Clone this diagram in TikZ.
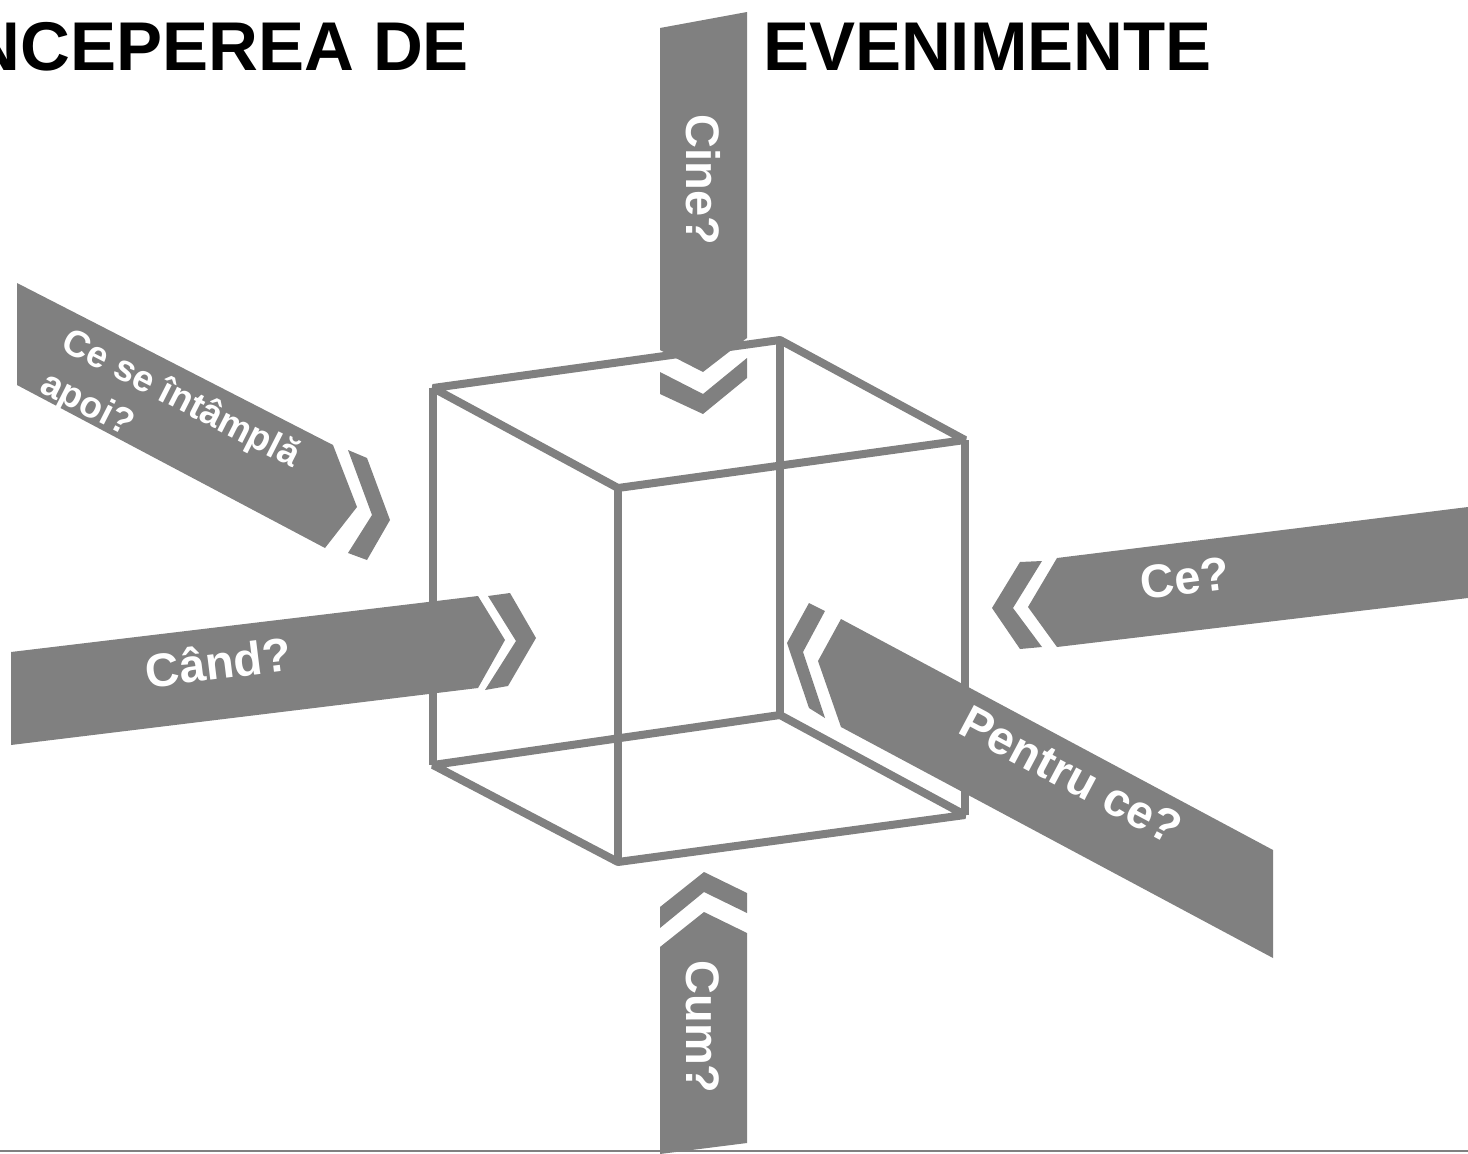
\documentclass[tikz,border=0pt]{standalone}
\usepackage{fontspec}
\setmainfont{Liberation Sans}
\definecolor{boxgray}{HTML}{808080}
\begin{document}
\begin{tikzpicture}[x=1pt,y=-1pt,
    every node/.style={inner sep=0pt, outer sep=0pt},
    arrowband/.style={fill=boxgray, draw=none},
    cubeline/.style={draw=boxgray, line width=8pt, line join=bevel},
    qtext/.style={text=white, font=\bfseries\fontsize{47}{56}\selectfont},
    headline/.style={text=black, font=\bfseries\fontsize{69}{80}\selectfont}]
    \useasboundingbox (0,0) rectangle (1468,1154);
    \node[headline, anchor=base east] (titleleft) at (469,70) {NCEPEREA DE};
    \node[headline, anchor=base west] (titleright) at (763,70) {EVENIMENTE};
    \coordinate (a) at (433,388);
    \coordinate (b) at (780,340);
    \coordinate (c) at (965,440);
    \coordinate (d) at (618,488);
    \coordinate (a2) at (433,765);
    \coordinate (b2) at (780,715);
    \coordinate (c2) at (965,815);
    \coordinate (d2) at (618,862);
    \draw[cubeline] (a) -- (b) -- (c) -- (d) -- cycle;
    \draw[cubeline] (a2) -- (b2) -- (c2) -- (d2) -- cycle;
    \foreach \p in {a,b,c,d}
        \draw[cubeline] (\p) -- (\p2);
    \fill[arrowband] (660,28) -- (747,12) -- (747,338) -- (703,372) -- (660,350) -- cycle;
    \fill[arrowband] (660,372) -- (703,394) -- (747,358) -- (747,378) -- (703,414) -- (660,394) -- cycle;
    \fill[arrowband] (660,907) -- (704,872) -- (747,893) -- (747,913) -- (704,892) -- (660,928) -- cycle;
    \fill[arrowband] (660,947) -- (704,912) -- (747,933) -- (747,1143) -- (660,1154) -- cycle;
    \fill[arrowband] (11,652) -- (478,596) -- (505,640) -- (478,688) -- (11,745) -- cycle;
    \fill[arrowband] (488,596) -- (510,593) -- (536,638) -- (508,686) -- (485,690) -- (516,641) -- cycle;
    \fill[arrowband] (1057,558) -- (1468,507) -- (1468,598) -- (1057,647) -- (1028,607) -- cycle;
    \fill[arrowband] (1020,562) -- (1042,561) -- (1013,608) -- (1042,647) -- (1020,649) -- (992,608) -- cycle;
    \fill[arrowband] (841,619) -- (1273,850) -- (1273,958) -- (841,727) -- (818,661) -- cycle;
    \fill[arrowband] (809,603) -- (825,611) -- (803,652) -- (825,718) -- (809,708) -- (787,643) -- cycle;
    \fill[arrowband] (17,283) -- (333,445) -- (357,507) -- (325,548) -- (17,385) -- cycle;
    \fill[arrowband] (348,450) -- (367,458) -- (390,520) -- (367,560) -- (348,553) -- (372,515) -- cycle;
    \node[qtext, rotate=-90] (cine) at (703,180) {Cine?};
    \node[qtext, rotate=-90] (cum) at (703,1027) {Cum?};
    \node[qtext, rotate=7] (cand) at (218,662) {Când?};
    \node[qtext, rotate=7] (ce) at (1185,578) {Ce?};
    \node[qtext, rotate=-28] (pentru) at (1071,775) {Pentru ce?};
    \node[qtext, font=\bfseries\fontsize{37}{47}\selectfont, rotate=-27, align=left] (apoi) at (170,421) {Ce se întâmplă\\apoi?};
    \draw[boxgray, line width=1.5pt] (0,1151) -- (1468,1151);
\end{tikzpicture}
\end{document}
